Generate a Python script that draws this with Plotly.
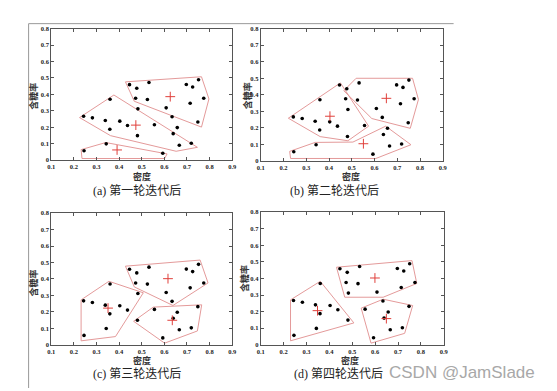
import plotly.graph_objects as go

W, H = 557, 391

# Watermelon data: density (密度), sugar content (含糖率)
density = [0.697, 0.774, 0.634, 0.608, 0.556, 0.403, 0.481, 0.437, 0.666, 0.243,
           0.245, 0.343, 0.639, 0.657, 0.360, 0.593, 0.719, 0.359, 0.339, 0.282,
           0.748, 0.714, 0.483, 0.478, 0.525, 0.751, 0.532, 0.473, 0.725, 0.446]
sugar = [0.460, 0.376, 0.264, 0.318, 0.215, 0.237, 0.149, 0.211, 0.091, 0.267,
         0.057, 0.099, 0.161, 0.198, 0.370, 0.042, 0.103, 0.188, 0.241, 0.257,
         0.232, 0.346, 0.312, 0.437, 0.369, 0.489, 0.472, 0.376, 0.445, 0.459]

captions = ["(a) 第一轮迭代后", "(b) 第二轮迭代后", "(c) 第三轮迭代后", "(d) 第四轮迭代后"]
x_title = "密度"
y_title = "含糖率"
tick_vals = [0, 0.1, 0.2, 0.3, 0.4, 0.5, 0.6, 0.7, 0.8, 0.9]
tick_text = ["0", "0.1", "0.2", "0.3", "0.4", "0.5", "0.6", "0.7", "0.8", "0.9"]

# cluster outlines per panel: (xs, ys)
hulls_a = [
    ([0.428, 0.764, 0.797, 0.764, 0.467], [0.476, 0.507, 0.372, 0.201, 0.358]),
    ([0.225, 0.377, 0.746, 0.652, 0.362], [0.259, 0.396, 0.078, 0.054, 0.149]),
    ([0.232, 0.341, 0.612, 0.601, 0.236], [0.064, 0.107, 0.038, 0.010, 0.010]),
]
hulls_b = [
    ([0.221, 0.450, 0.574, 0.483, 0.361], [0.259, 0.472, 0.211, 0.123, 0.148]),
    ([0.519, 0.767, 0.793, 0.757, 0.588, 0.465], [0.500, 0.500, 0.372, 0.198, 0.257, 0.425]),
    ([0.227, 0.339, 0.505, 0.649, 0.760, 0.606, 0.231], [0.059, 0.113, 0.115, 0.211, 0.099, 0.016, 0.016]),
]
hulls_c = [
    ([0.232, 0.355, 0.507, 0.384, 0.232], [0.273, 0.386, 0.316, 0.050, 0.024]),
    ([0.428, 0.758, 0.793, 0.638, 0.467], [0.478, 0.515, 0.376, 0.239, 0.352]),
    ([0.464, 0.551, 0.765, 0.746, 0.601], [0.143, 0.229, 0.243, 0.084, 0.010]),
]
hulls_d = [
    ([0.230, 0.360, 0.507, 0.230], [0.271, 0.383, 0.132, 0.024]),
    ([0.431, 0.761, 0.782, 0.635, 0.467], [0.468, 0.508, 0.370, 0.287, 0.287]),
    ([0.539, 0.635, 0.764, 0.729, 0.582], [0.221, 0.275, 0.237, 0.069, 0.010]),
]
centers_a = ([0.626, 0.474, 0.391], [0.386, 0.213, 0.062])
centers_b = ([0.404, 0.652, 0.551], [0.271, 0.379, 0.105])
centers_c = ([0.351, 0.616, 0.635], [0.223, 0.402, 0.149])
centers_d = ([0.348, 0.599, 0.649], [0.206, 0.403, 0.158])

hulls = [hulls_a, hulls_b, hulls_c, hulls_d]
centers = [centers_a, centers_b, centers_c, centers_d]

# panel pixel boxes: (x0, x1, ytop, ybottom)
boxes = [(48, 232, 25, 159), (261, 446, 25, 160), (48, 232, 213, 347), (261, 447, 212, 347)]
cap_pos = [(135, 190), (336, 190), (135, 377), (340, 377)]
xt_pos = [(140, 176), (353, 176), (140, 363), (352, 363)]
yt_pos = [(30, 94), (247, 94), (30, 284), (245, 280)]

fig = go.Figure()
serif = "Liberation Serif, DejaVu Serif, serif"
cjk = "Liberation Serif, Noto Sans CJK SC"
hull_color = "#e49a9a"
cent_color = "#e0403c"

layout = dict(width=W, height=H, autosize=False, margin=dict(l=0, r=0, t=0, b=0),
              paper_bgcolor="white", plot_bgcolor="white", showlegend=False)
annotations = []


def ann(text, px, py, font, angle=0):
    return dict(text=text, x=px / W, y=1 - py / H, xref="paper", yref="paper",
                xanchor="center", yanchor="middle", showarrow=False, textangle=angle, font=font)


for i in range(4):
    sfx = "" if i == 0 else str(i + 1)
    xa, ya = "x" + sfx, "y" + sfx
    x0, x1, yt, yb = boxes[i]
    for hx, hy in hulls[i]:
        fig.add_trace(go.Scatter(x=hx + [hx[0]], y=hy + [hy[0]], mode="lines",
                                 line=dict(color=hull_color, width=1),
                                 xaxis=xa, yaxis=ya, hoverinfo="skip"))
    fig.add_trace(go.Scatter(x=density, y=sugar, mode="markers",
                             marker=dict(color="black", size=3.6),
                             xaxis=xa, yaxis=ya))
    cx, cy = centers[i]
    fig.add_trace(go.Scatter(x=cx, y=cy, mode="markers",
                             marker=dict(symbol="cross-thin", size=7,
                                         line=dict(color=cent_color, width=1)),
                             xaxis=xa, yaxis=ya))
    common = dict(showgrid=False, zeroline=False, showline=True, linecolor="#555",
                  linewidth=1, mirror="allticks", ticks="inside", ticklen=3,
                  tickcolor="#555", tickfont=dict(family=serif, size=6.5, color="#222"),
                  tickvals=tick_vals, ticktext=["<b>" + t + "</b>" for t in tick_text])
    layout["xaxis" + sfx] = dict(common, range=[0.1, 0.9], anchor=ya,
                                 domain=[x0 / W, x1 / W])
    layout["yaxis" + sfx] = dict(common, range=[0, 0.8], anchor=xa,
                                 domain=[1 - yb / H, 1 - yt / H])
    cxp, cyp = cap_pos[i]
    annotations.append(ann(captions[i], cxp, cyp, dict(family=cjk, size=12, color="#222")))
    xp, yp = xt_pos[i]
    annotations.append(ann("<b>" + x_title + "</b>", xp, yp,
                           dict(family="Noto Sans CJK SC", size=9, color="#333")))
    xp, yp = yt_pos[i]
    annotations.append(ann("<b>" + y_title + "</b>", xp, yp,
                           dict(family="Noto Sans CJK SC", size=9, color="#333"), angle=-90))

annotations.append(ann("CSDN @JamSlade", 466, 375,
                       dict(family="Liberation Sans, Arial", size=17, color="#a8a8a8")))
layout["annotations"] = annotations
layout["shapes"] = [
    dict(type="line", xref="paper", yref="paper", x0=25 / W, x1=25 / W, y0=0, y1=1 - 20 / H,
         line=dict(color="#999", width=1)),
    dict(type="line", xref="paper", yref="paper", x0=25 / W, x1=457 / W, y0=1 - 20 / H, y1=1 - 20 / H,
         line=dict(color="#999", width=1)),
]
fig.update_layout(**layout)
fig.write_html("out.html", config={"displayModeBar": False},
               post_script="document.body.style.margin='0';document.body.style.padding='0';")
